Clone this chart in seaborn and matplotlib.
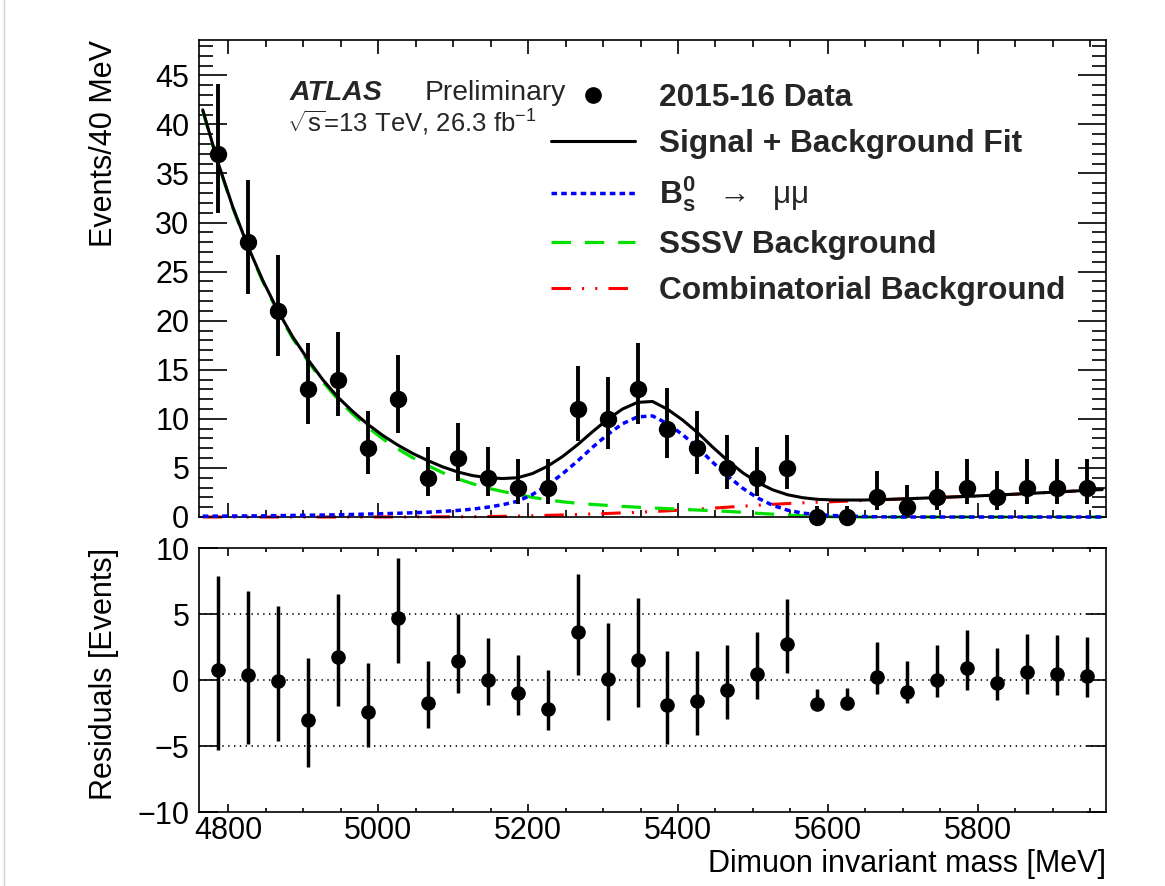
import numpy as np
import pandas as pd
import seaborn as sns
import matplotlib.pyplot as plt
from matplotlib.ticker import MultipleLocator, NullLocator
from matplotlib.lines import Line2D

sns.set_theme(style="ticks")
plt.rcParams['font.family'] = ['Liberation Sans', 'DejaVu Sans']
plt.rcParams['mathtext.fontset'] = 'custom'
plt.rcParams['mathtext.rm'] = 'Liberation Sans'
plt.rcParams['mathtext.it'] = 'Liberation Sans'
plt.rcParams['mathtext.bf'] = 'Liberation Sans:bold'
plt.rcParams['lines.scale_dashes'] = False
plt.rcParams['axes.linewidth'] = 1.2
plt.rcParams['axes.edgecolor'] = 'black'

# data: 40 MeV bins
mass = [4786, 4826, 4866, 4906, 4946, 4986, 5026, 5066, 5106, 5146,
        5186, 5226, 5266, 5306, 5346, 5386, 5426, 5466, 5506, 5546,
        5586, 5626, 5666, 5706, 5746, 5786, 5826, 5866, 5906, 5946]
events = [37, 28, 21, 13, 14, 7, 12, 4, 6, 4,
          3, 3, 11, 10, 13, 9, 7, 5, 4, 5,
          0, 0, 2, 1, 2, 3, 2, 3, 3, 3]
err_lo = [6.06, 5.26, 4.55, 3.56, 3.70, 2.58, 3.42, 1.91, 2.38, 1.91,
          1.63, 1.63, 3.27, 3.11, 3.56, 2.94, 2.58, 2.16, 1.91, 2.16,
          0.0, 0.0, 1.29, 0.83, 1.29, 1.63, 1.29, 1.63, 1.63, 1.63]
err_hi = [7.12, 6.35, 5.66, 4.68, 4.81, 3.77, 4.55, 3.16, 3.58, 3.16,
          2.92, 2.92, 4.40, 4.26, 4.68, 4.11, 3.77, 3.38, 3.16, 3.38,
          1.15, 1.15, 2.64, 2.30, 2.64, 2.92, 2.64, 2.92, 2.92, 2.92]
residuals = [0.76, 0.38, -0.05, -3.05, 1.73, -2.46, 4.70, -1.73, 1.42, 0.0,
             -1.0, -2.16, 3.65, 0.08, 1.52, -1.90, -1.60, -0.76, 0.48, 2.72,
             -1.80, -1.73, 0.25, -0.89, 0.0, 0.89, -0.25, 0.58, 0.46, 0.33]

# fit components sampled every 20 MeV from 4766 to 5966
mass_grid = np.arange(4766, 5967, 20)
sssv_bkg = [41.4, 36.1, 31.5, 27.5, 24.0, 20.9, 18.2, 15.9, 13.8, 12.0,
            10.5, 9.15, 7.97, 6.95, 6.04, 5.25, 4.52, 3.9, 3.39, 2.95,
            2.6, 2.3, 2.0, 1.75, 1.55, 1.4, 1.28, 1.18, 1.08, 1.0,
            0.92, 0.85, 0.78, 0.71, 0.64, 0.57, 0.48, 0.38, 0.29, 0.2,
            0.13, 0.07, 0.03, 0.01, 0, 0, 0, 0, 0, 0,
            0, 0, 0, 0, 0, 0, 0, 0, 0, 0, 0]
bs_mumu = [0.08, 0.09, 0.1, 0.11, 0.12, 0.14, 0.16, 0.18, 0.2, 0.23,
           0.26, 0.3, 0.34, 0.38, 0.43, 0.49, 0.57, 0.67, 0.8, 1.0,
           1.25, 1.6, 2.3, 3.25, 4.4, 5.7, 7.1, 8.4, 9.5, 10.2,
           10.3, 9.5, 8.4, 7.1, 5.6, 4.2, 2.95, 1.95, 1.2, 0.7,
           0.4, 0.23, 0.15, 0.1, 0.05, 0.02, 0.01, 0, 0, 0,
           0, 0, 0, 0, 0, 0, 0, 0, 0, 0, 0]
comb_bkg = [0, 0, 0, 0, 0, 0, 0, 0, 0, 0,
            0, 0, 0.01, 0.01, 0.01, 0.02, 0.02, 0.02, 0.03, 0.05,
            0.07, 0.1, 0.13, 0.17, 0.21, 0.26, 0.31, 0.36, 0.42, 0.48,
            0.55, 0.63, 0.71, 0.8, 0.9, 1.0, 1.1, 1.2, 1.29, 1.37,
            1.44, 1.5, 1.56, 1.62, 1.68, 1.74, 1.8, 1.86, 1.92, 1.98,
            2.04, 2.1, 2.17, 2.24, 2.31, 2.39, 2.47, 2.55, 2.63, 2.72, 2.8]

curves = pd.DataFrame({'mass': mass_grid, 'sig': bs_mumu, 'sssv': sssv_bkg, 'comb': comb_bkg})
curves['fit'] = curves['sig'] + curves['sssv'] + curves['comb']

W, H = 1165, 886
fig = plt.figure(figsize=(W / 100, H / 100), dpi=100)


def px_box(l, t, r, b):
    return [l / W, 1 - b / H, (r - l) / W, (b - t) / H]


ax = fig.add_axes(px_box(199, 40, 1106, 517))
ax2 = fig.add_axes(px_box(199, 548, 1106, 812))

red_style = (0, (14, 8, 1.5, 8, 1.5, 8))
green_style = (0, (14, 10))
blue_style = (0, (4, 3))

sns.lineplot(data=curves, x='mass', y='comb', ax=ax, color='#ff0000', linewidth=2.2,
             linestyle=red_style, estimator=None, sort=False, clip_on=False, zorder=2)
sns.lineplot(data=curves, x='mass', y='sssv', ax=ax, color='#00e000', linewidth=2.3,
             linestyle=green_style, estimator=None, sort=False, clip_on=False, zorder=2)
sns.lineplot(data=curves, x='mass', y='sig', ax=ax, color='#0000ff', linewidth=2.5,
             linestyle=blue_style, estimator=None, sort=False, clip_on=False, zorder=3)
sns.lineplot(data=curves, x='mass', y='fit', ax=ax, color='black', linewidth=2.2,
             estimator=None, sort=False, clip_on=False, zorder=4)

eb = ax.errorbar(mass, events, yerr=[err_lo, err_hi], fmt='o', color='black',
                 ms=11.5, elinewidth=2.8, capsize=0, zorder=5)
for art in eb.get_children():
    art.set_clip_on(False)

eb2 = ax2.errorbar(mass, residuals, yerr=[err_lo, err_hi], fmt='o', color='black',
                   ms=9.5, elinewidth=2.5, capsize=0, zorder=5)
for v in [-5, 0, 5]:
    ax2.axhline(v, color='black', lw=1.2, ls=(0, (1, 3.2)), zorder=1)

for a in (ax, ax2):
    a.set_xlim(4761, 5971)
    a.xaxis.set_major_locator(MultipleLocator(200))
    a.xaxis.set_minor_locator(MultipleLocator(50))
    a.tick_params(which='both', direction='in', top=True, right=True,
                  color='black', width=1.2, labelsize=22, labelcolor='black')
    for s in a.spines.values():
        s.set_color('black')
        s.set_linewidth(1.2)

ax.set_ylim(0, 48.6)
ax.yaxis.set_major_locator(MultipleLocator(5))
ax.yaxis.set_minor_locator(MultipleLocator(1))
ax.tick_params(axis='x', which='major', length=10, labelbottom=False)
ax.tick_params(axis='x', which='minor', length=5)
ax.tick_params(axis='y', which='major', length=20, pad=7)
ax.tick_params(axis='y', which='minor', length=10)
ax.set_xlabel('')
ax.set_ylabel('Events/40 MeV', fontsize=22, loc='top', color='black')
ax.yaxis.set_label_coords(-0.088, 1.0)

ax2.set_ylim(-10, 10)
ax2.set_yticks([-10, -5, 0, 5, 10])
ax2.yaxis.set_minor_locator(NullLocator())
ax2.tick_params(axis='y', which='major', length=14, pad=7)
ax2.tick_params(axis='x', which='major', length=6, pad=3)
ax2.tick_params(axis='x', which='minor', length=3)
ax2.set_ylabel('Residuals [Events]', fontsize=22, loc='top', color='black')
ax2.yaxis.set_label_coords(-0.088, 1.0)
ax2.set_xlabel('Dimuon invariant mass [MeV]', fontsize=22, loc='right', labelpad=2, color='black')

fig.text(290 / W, 1 - 100 / H, 'ATLAS', fontsize=20.5, fontweight='bold',
         fontstyle='italic', va='baseline')
fig.text(425 / W, 1 - 100 / H, 'Preliminary', fontsize=20.3, va='baseline')
fig.text(287 / W, 1 - 132 / H, r'$\sqrt{s}$=13 TeV, 26.3 fb$^{-1}$', fontsize=18.5, va='baseline')

handles = [Line2D([], [], ls='none', marker='o', color='black', ms=11),
           Line2D([], [], color='black', lw=2.2),
           Line2D([], [], color='#0000ff', lw=2.5, ls=blue_style),
           Line2D([], [], color='#00e000', lw=2.3, ls=green_style),
           Line2D([], [], color='#ff0000', lw=2.2, ls=red_style)]
labels = ['2015-16 Data', 'Signal + Background Fit',
          r'$\mathbf{B}_\mathbf{s}^\mathbf{0}$  $\rightarrow$  μμ',
          'SSSV Background', 'Combinatorial Background']
leg = ax.legend(handles, labels, loc='upper left', bbox_to_anchor=(551 / W, 1 - 83 / H),
                bbox_transform=fig.transFigure, frameon=False,
                prop={'size': 22.8, 'weight': 'bold'}, handlelength=2.65,
                handletextpad=0.75, labelspacing=0.5, borderpad=0, borderaxespad=0)
leg.get_texts()[2].set_fontweight('normal')

fig.add_artist(Line2D([4 / W, 4 / W], [0, 1], transform=fig.transFigure, color='#d0d0d0', lw=1))

fig.savefig('out.png', dpi=100)
